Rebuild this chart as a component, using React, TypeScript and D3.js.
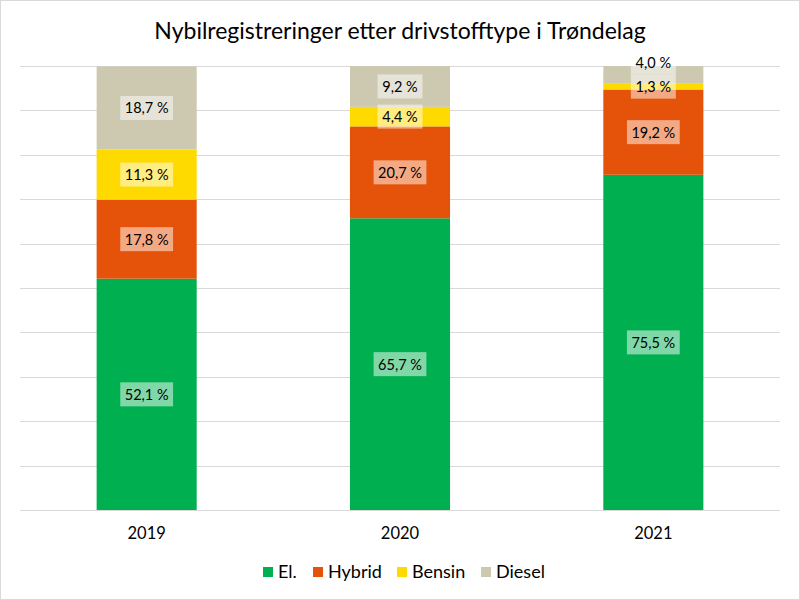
import React from "react";
import * as d3 from "d3";

const years = ["2019", "2020", "2021"];
const seriesNames = ["El.", "Hybrid", "Bensin", "Diesel"];
const elValues = [52.1, 65.7, 75.5];
const hybridValues = [17.8, 20.7, 19.2];
const bensinValues = [11.3, 4.4, 1.3];
const dieselValues = [18.7, 9.2, 4.0];
const yTicks = [0, 10, 20, 30, 40, 50, 60, 70, 80, 90, 100];
const colors = ["#00B050", "#E45309", "#FFDA00", "#CDC9B0"];

const W = 800;
const H = 600;
const FONT = "Lato, 'Liberation Sans', Arial, sans-serif";

export default function App() {
  const rows = years.map((y, i) => ({
    year: y,
    "El.": elValues[i],
    Hybrid: hybridValues[i],
    Bensin: bensinValues[i],
    Diesel: dieselValues[i],
  }));
  const stack = d3.stack<any>().keys(seriesNames)(rows);

  const x = d3
    .scaleBand<string>()
    .domain(years)
    .range([20, 780])
    .paddingInner(0.605)
    .paddingOuter(0.3025);
  const y = d3.scaleLinear().domain([0, 100]).range([510, 66]);

  const boxH = 24;
  const fmt = (v: number) => v.toFixed(1).replace(".", ",") + " %";

  const labels: { x: number; y: number; text: string; s: number }[] = [];
  years.forEach((yr, i) => {
    let prev = Infinity;
    stack.forEach((layer, s) => {
      const d = layer[i];
      let cy = (y(d[0]) + y(d[1])) / 2;
      if (cy > prev - boxH) cy = prev - boxH;
      prev = cy;
      labels.push({
        x: (x(yr) as number) + x.bandwidth() / 2,
        y: cy,
        text: fmt(d[1] - d[0]),
        s,
      });
    });
  });

  const legendItems = [
    { name: "El.", x: 263 },
    { name: "Hybrid", x: 313 },
    { name: "Bensin", x: 397 },
    { name: "Diesel", x: 481 },
  ];

  return (
    <div style={{ position: "absolute", left: 0, top: 0 }}>
      <svg width={W} height={H} style={{ display: "block", fontFamily: FONT }}>
        <rect x={0} y={0} width={W} height={H} fill="#fff" />
        <rect x={0.5} y={0.5} width={W - 1} height={H - 1} fill="none" stroke="#d9d9d9" />
        <text x={400} y={38.5} textAnchor="middle" fontSize={23} fill="#000">
          Nybilregistreringer etter drivstofftype i Trøndelag
        </text>
        {yTicks.map((t) => (
          <line
            key={t}
            x1={20}
            x2={780}
            y1={Math.round(y(t)) + 0.5}
            y2={Math.round(y(t)) + 0.5}
            stroke="#d9d9d9"
            strokeWidth={1}
          />
        ))}
        {stack.map((layer, s) =>
          layer.map((d, i) => (
            <rect
              key={s + "-" + i}
              x={x(years[i])}
              width={x.bandwidth()}
              y={y(d[1])}
              height={y(d[0]) - y(d[1])}
              fill={colors[s]}
            />
          ))
        )}
        {labels.map((l, k) => {
          const w = l.text.length * 7.8 + 6;
          return (
            <g key={k}>
              <rect
                x={l.x - w / 2}
                y={l.y - boxH / 2}
                width={w}
                height={boxH}
                fill="#fff"
                fillOpacity={0.5}
              />
              <text
                x={l.x}
                y={l.y}
                textAnchor="middle"
                dominantBaseline="central"
                fontSize={14.5}
                fill="#000"
              >
                {l.text}
              </text>
            </g>
          );
        })}
        {years.map((yr) => (
          <text
            key={yr}
            x={(x(yr) as number) + x.bandwidth() / 2}
            y={539}
            textAnchor="middle"
            fontSize={16.5}
            fill="#000"
          >
            {yr}
          </text>
        ))}
        {legendItems.map((it, i) => (
          <g key={it.name}>
            <rect x={it.x} y={567} width={10} height={10} fill={colors[i]} />
            <text x={it.x + 15} y={578} fontSize={18} fill="#000">
              {it.name}
            </text>
          </g>
        ))}
      </svg>
    </div>
  );
}
